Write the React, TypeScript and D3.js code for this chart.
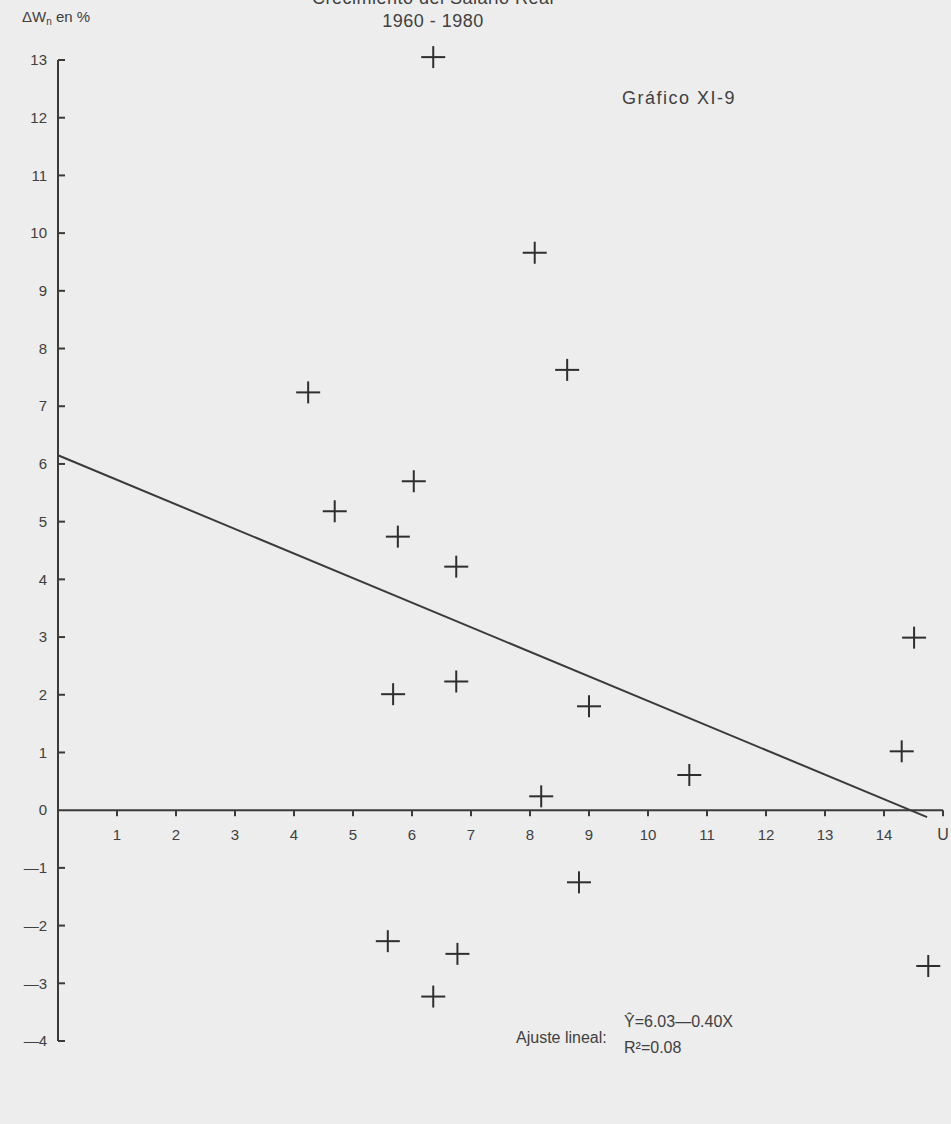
import React from 'react';
import * as d3 from 'd3';

// desempleo (U) y crecimiento del salario real (ΔWn)
const unemployment = [6.36, 8.08, 8.63, 4.24, 6.03, 4.69, 5.76, 6.75, 14.51, 6.75,
  5.68, 9.0, 14.3, 10.7, 8.19, 8.83, 5.59, 6.77, 14.75, 6.36];
const wageGrowth = [13.05, 9.66, 7.63, 7.24, 5.70, 5.18, 4.74, 4.22, 2.99, 2.23,
  2.01, 1.80, 1.02, 0.61, 0.24, -1.25, -2.27, -2.49, -2.70, -3.23];

const yTicks = d3.range(-4, 14);
const xTicks = d3.range(1, 15);
const fitLine = [[0, 6.15], [14.73, -0.12]];

const W = 951, H = 1124;
const ink = '#3a3a3a';
const txt = '#404040';
const font = '"Liberation Sans", Arial, sans-serif';

function label(v) {
  return v < 0 ? '\u2014' + Math.abs(v) : String(v);
}

export default function App() {
  const x = d3.scaleLinear().domain([0, 15]).range([58, 943]);
  const y = d3.scaleLinear().domain([-4, 13]).range([1041, 60]);
  const line = d3.line().x(d => x(d[0])).y(d => y(d[1]));
  const pts = unemployment.map((u, i) => [u, wageGrowth[i]]);

  return (
    <svg width={W} height={H} style={{ position: 'absolute', left: 0, top: 0 }}
         fontFamily={font}>
      <rect width={W} height={H} fill="#ededed" />

      {/* titulos */}
      <text x={433} y={4} textAnchor="middle" fontSize={18} letterSpacing={0.5} fill={txt}>Crecimiento del Salario Real</text>
      <text x={433} y={27} textAnchor="middle" fontSize={18} letterSpacing={0.5} fill={txt}>1960 - 1980</text>
      <text x={622} y={104} fontSize={18} letterSpacing={1.5} fill={txt}>Gráfico XI-9</text>
      <text x={22} y={22} fontSize={15} fill={txt}>
        ΔW<tspan fontSize={10} dy={3}>n</tspan><tspan dy={-3}>  en  %</tspan>
      </text>

      {/* eje y */}
      <line x1={x(0)} x2={x(0)} y1={y(13)} y2={y(-4)} stroke={ink} strokeWidth={2} />
      {yTicks.map(t => (
        <g key={'y' + t}>
          {t !== 0 && <line x1={x(0)} x2={x(0) + 7} y1={y(t)} y2={y(t)} stroke={ink} strokeWidth={2} />}
          <text x={47} y={y(t)} dy="0.35em" textAnchor="end" fontSize={15} fill={txt}>{label(t)}</text>
        </g>
      ))}

      {/* eje x */}
      <line x1={x(0)} x2={x(15)} y1={y(0)} y2={y(0)} stroke={ink} strokeWidth={2} />
      {xTicks.concat([15]).map(t => (
        <line key={'xt' + t} x1={x(t)} x2={x(t)} y1={y(0)} y2={y(0) + 6} stroke={ink} strokeWidth={2} />
      ))}
      {xTicks.map(t => (
        <text key={'xl' + t} x={x(t)} y={y(0) + 30} textAnchor="middle" fontSize={15} fill={txt}>{t}</text>
      ))}
      <text x={x(15)} y={y(0) + 30} textAnchor="middle" fontSize={16} fill={txt}>U</text>

      {/* recta de ajuste */}
      <path d={line(fitLine)} fill="none" stroke={ink} strokeWidth={2} />

      {/* puntos */}
      {pts.map((p, i) => (
        <g key={'p' + i} transform={`translate(${x(p[0])},${y(p[1])})`} stroke="#2e2e2e" strokeWidth={2}>
          <line x1={-12} x2={12} y1={0} y2={0} />
          <line x1={0} x2={0} y1={-11} y2={11} />
        </g>
      ))}

      {/* ajuste lineal */}
      <text x={516} y={1043} fontSize={16} fill={txt}>Ajuste lineal:</text>
      <text x={624} y={1027} fontSize={16} fill={txt}>{'\u0176=6.03\u20140.40X'}</text>
      <text x={624} y={1053} fontSize={16} fill={txt}>R²=0.08</text>
    </svg>
  );
}
